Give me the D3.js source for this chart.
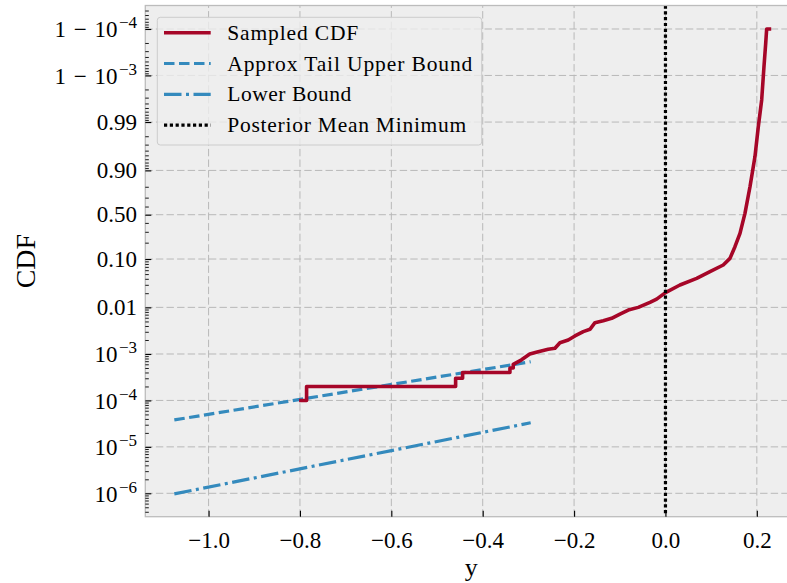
<!DOCTYPE html>
<html>
<head>
<meta charset="utf-8">
<script src="https://cdn.jsdelivr.net/npm/d3@7"></script>
<style>
  body { margin: 0; background: #ffffff; }
  text { font-family: "Liberation Serif", "DejaVu Serif", serif; fill: #000; }
</style>
</head>
<body>
<script>
// ---- data ----
// sampled empirical CDF (x value, cumulative probability)
var cdfX = [-0.798, -0.7855, -0.7855, -0.4593, -0.4593, -0.4440, -0.4440, -0.3404, -0.3404, -0.3332, -0.3332,
            -0.3150, -0.2970, -0.2785, -0.2566, -0.2419, -0.2310, -0.2128, -0.1981, -0.1799, -0.1653,
            -0.1543, -0.1362, -0.1178, -0.0996, -0.0814, -0.0595, -0.0339, -0.0193, 0.0, 0.0317,
            0.0683, 0.0974, 0.1265, 0.1412, 0.1521, 0.1631, 0.1740, 0.1850, 0.1959, 0.2032,
            0.2106, 0.2156, 0.2194, 0.2215, 0.2275]
var cdfP = [1e-4, 1e-4, 2e-4, 2e-4, 3e-4, 3e-4, 4e-4, 4e-4, 5e-4, 5e-4, 6e-4,
            7.5e-4, 1.0e-3, 1.12e-3, 1.26e-3, 1.33e-3, 1.75e-3, 2.0e-3, 2.44e-3, 3.02e-3, 3.39e-3,
            4.70e-3, 5.19e-3, 5.84e-3, 7.21e-3, 8.77e-3, 1.0e-2, 1.28e-2, 1.50e-2, 2.06e-2, 2.97e-2,
            4.09e-2, 5.59e-2, 7.63e-2, 0.103, 0.170, 0.284, 0.517, 0.800, 0.947, 0.9874,
            0.99663, 0.99935, 0.999797, 0.9999, 0.9999]
// approximate tail upper bound and lower bound
var upperX = [-1.075, -0.295]
var upperP = [3.8e-5, 6.8e-4]
var lowerX = [-1.075, -0.295]
var lowerP = [9.7e-7, 3.3e-5]
// posterior mean minimum
var meanMin = 0.0

var xTicks = [-1.0, -0.8, -0.6, -0.4, -0.2, 0.0, 0.2]
var yTickP = [1e-6, 1e-5, 1e-4, 1e-3, 0.01, 0.1, 0.5, 0.9, 0.99, 1 - 1e-3, 1 - 1e-4]
var yTickLabels = [["10", "\u22126"], ["10", "\u22125"], ["10", "\u22124"], ["10", "\u22123"],
                   ["0.01", ""], ["0.10", ""], ["0.50", ""], ["0.90", ""], ["0.99", ""],
                   ["1\u2004\u2212\u200410", "\u22123"], ["1\u2004\u2212\u200410", "\u22124"]]
var legendNames = ["Sampled CDF", "Approx Tail Upper Bound", "Lower Bound", "Posterior Mean Minimum"]

// ---- layout ----
var screen = {width: 787, height: 583}
var plot = {left: 145.3, top: 5.5, right: 797, bottom: 516.7}

var logit = function(p) { return Math.log10(p / (1 - p)) }

var svg = d3.select("body").append("svg")
    .attr("width", screen.width)
    .attr("height", screen.height)

var xScale = d3.scaleLinear().domain([-1.1385, 0.2879]).range([plot.left, plot.right])
// logit axis: linear in log10(p/(1-p))
var yScale = d3.scaleLinear().domain([-6.504, 4.506]).range([plot.bottom, plot.top])
var yP = function(p) { return yScale(logit(p)) }

svg.append("defs").append("clipPath").attr("id", "clip")
    .append("rect")
    .attr("x", plot.left).attr("y", plot.top)
    .attr("width", plot.right - plot.left).attr("height", plot.bottom - plot.top)

// background
svg.append("rect")
    .attr("x", plot.left).attr("y", plot.top)
    .attr("width", plot.right - plot.left).attr("height", plot.bottom - plot.top)
    .attr("fill", "#eeeeee")

// grid
var grid = svg.append("g").attr("id", "grid")
    .attr("stroke", "#b8b8b8").attr("stroke-width", 1).attr("stroke-dasharray", "7.4,3.2")
grid.selectAll(".gx").data(xTicks).enter().append("line")
    .attr("x1", function(d) { return xScale(d) }).attr("x2", function(d) { return xScale(d) })
    .attr("y1", plot.bottom).attr("y2", plot.top)
grid.selectAll(".gy").data(yTickP).enter().append("line")
    .attr("y1", function(d) { return yP(d) }).attr("y2", function(d) { return yP(d) })
    .attr("x1", plot.left).attr("x2", plot.right)

// lines
var marks = svg.append("g").attr("clip-path", "url(#clip)")
var line = d3.line()
    .x(function(d) { return xScale(d[0]) })
    .y(function(d) { return yP(d[1]) })

marks.append("path")
    .datum(upperX.map(function(x, i) { return [x, upperP[i]] }))
    .attr("d", line).attr("fill", "none")
    .attr("stroke", "#348ABD").attr("stroke-width", 3.2).attr("stroke-dasharray", "10.5,4.5")
marks.append("path")
    .datum(lowerX.map(function(x, i) { return [x, lowerP[i]] }))
    .attr("d", line).attr("fill", "none")
    .attr("stroke", "#348ABD").attr("stroke-width", 3.2).attr("stroke-dasharray", "17.5,4.5,3,4.5")
marks.append("path")
    .datum(cdfX.map(function(x, i) { return [x, cdfP[i]] }))
    .attr("d", line).attr("fill", "none")
    .attr("stroke", "#A60628").attr("stroke-width", 3.6)
    .attr("stroke-linejoin", "round").attr("stroke-linecap", "square")
marks.append("line")
    .attr("x1", xScale(meanMin)).attr("x2", xScale(meanMin))
    .attr("y1", plot.top).attr("y2", plot.bottom)
    .attr("stroke", "#000").attr("stroke-width", 3.2).attr("stroke-dasharray", "3.2,2.6")

// spines
svg.append("rect")
    .attr("x", plot.left).attr("y", plot.top)
    .attr("width", plot.right - plot.left).attr("height", plot.bottom - plot.top)
    .attr("fill", "none").attr("stroke", "#bcbcbc").attr("stroke-width", 1.3)

// x axis
var xAxis = d3.axisBottom(xScale).tickValues(xTicks).tickSize(-6).tickFormat(d3.format(".1f"))
var gx = svg.append("g").attr("transform", "translate(0," + plot.bottom + ")").call(xAxis)
gx.select(".domain").remove()
gx.selectAll("line").attr("stroke", "#000").attr("stroke-width", 1.1)
gx.selectAll("text").attr("y", 31).attr("dy", null).style("font-size", "23px")

// y axis, minor ticks first
var minor = []
for (var n = 1; n <= 8; n++) {
    for (var k = 2; k <= 9; k++) {
        var p = k * Math.pow(10, -n)
        if (p < 0.5) { minor.push(p); minor.push(1 - p) }
    }
}
minor = minor.filter(function(p) { var l = logit(p); return l > -6.504 && l < 4.506 })

var gyMinor = svg.append("g").attr("transform", "translate(" + plot.left + ",0)")
    .call(d3.axisLeft(yScale).tickValues(minor.map(logit)).tickSize(-3.5).tickFormat(""))
gyMinor.select(".domain").remove()
gyMinor.selectAll("line").attr("stroke", "#000").attr("stroke-width", 0.9)

var gy = svg.append("g").attr("transform", "translate(" + plot.left + ",0)")
    .call(d3.axisLeft(yScale).tickValues(yTickP.map(logit)).tickSize(-6).tickFormat(""))
gy.select(".domain").remove()
gy.selectAll("line").attr("stroke", "#000").attr("stroke-width", 1.1)

var yLab = svg.append("g").selectAll("text").data(yTickP).enter().append("text")
    .attr("x", 137)
    .attr("y", function(d) { return yP(d) + 7.5 })
    .attr("text-anchor", "end")
    .style("font-size", "23px")
yLab.each(function(d, i) {
    var t = d3.select(this)
    var lab = yTickLabels[i]
    if (lab[1] === "") {
        t.text(lab[0])
    } else {
        t.attr("y", yP(d) + 8.5)
        t.append("tspan").text(lab[0])
        t.append("tspan").attr("dy", -9).attr("dx", 1.5).style("font-size", "17px").text(lab[1])
    }
})

// axis titles
svg.append("text")
    .attr("x", (plot.left + plot.right) / 2).attr("y", 576)
    .attr("text-anchor", "middle").style("font-size", "26px")
    .text("y")
svg.append("text")
    .attr("transform", "translate(35," + ((plot.top + plot.bottom) / 2) + ") rotate(-90)")
    .attr("text-anchor", "middle").style("font-size", "28px")
    .text("CDF")

// legend
var legend = svg.append("g").attr("id", "legend")
legend.append("rect")
    .attr("x", 157.3).attr("y", 17.3).attr("width", 324.4).attr("height", 127.7)
    .attr("rx", 3).attr("fill", "#eeeeee").attr("fill-opacity", 0.8)
    .attr("stroke", "#cccccc").attr("stroke-width", 1)
var legendStyle = [
    {color: "#A60628", width: 3.6, dash: null, len: 131},
    {color: "#348ABD", width: 3.2, dash: "10.5,4.5", len: 245},
    {color: "#348ABD", width: 3.2, dash: "17.5,4.5,3,4.5", len: 124},
    {color: "#000", width: 3.2, dash: "3.2,2.6", len: 239}
]
var rows = legend.selectAll(".row").data(legendNames).enter().append("g")
    .attr("transform", function(d, i) { return "translate(0," + (32.7 + i * 30.8) + ")" })
rows.append("line")
    .attr("x1", 164).attr("x2", 210.7)
    .attr("stroke", function(d, i) { return legendStyle[i].color })
    .attr("stroke-width", function(d, i) { return legendStyle[i].width })
    .attr("stroke-dasharray", function(d, i) { return legendStyle[i].dash })
rows.append("text")
    .attr("x", 227.3).attr("y", 7)
    .attr("textLength", function(d, i) { return legendStyle[i].len })
    .attr("lengthAdjust", "spacing")
    .style("font-size", "21.5px")
    .text(function(d) { return d })
</script>
</body>
</html>
